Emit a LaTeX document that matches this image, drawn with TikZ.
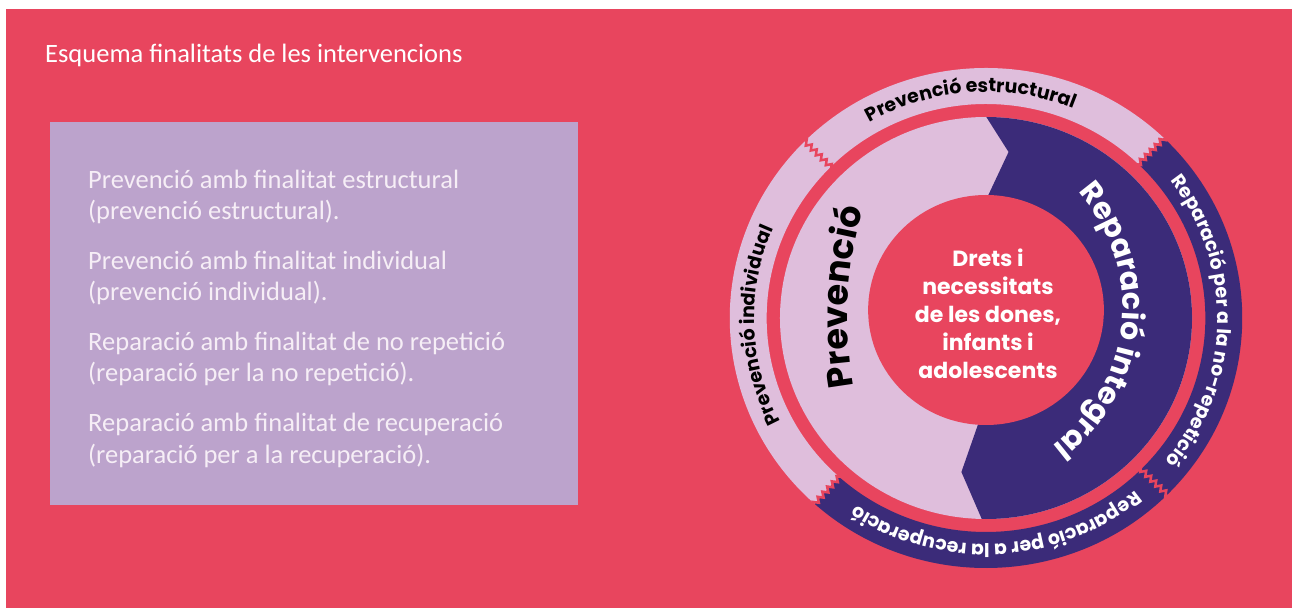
\documentclass[tikz,border=0pt]{standalone}
\usepackage{fontspec}
\setmainfont{Carlito}
\newfontfamily\pop{Poppins}
\usetikzlibrary{decorations.text,decorations.pathmorphing}
\definecolor{bgred}{HTML}{E8455E}
\definecolor{boxlilac}{HTML}{BCA3CC}
\definecolor{bandpink}{HTML}{DFBEDC}
\definecolor{deepviolet}{HTML}{3B2B79}
\definecolor{boxtext}{HTML}{F6EEF6}
\newcommand\bandfont{\pop\bfseries\fontsize{19}{19}\selectfont}
\newcommand\prevfont{\pop\bfseries\fontsize{35}{35}\selectfont}
\newcommand\repfont{\pop\bfseries\fontsize{30}{30}\selectfont}
\begin{document}
\begin{tikzpicture}[x=1pt,y=1pt,
  boxline/.style={anchor=base west, inner sep=0pt, text=boxtext, font=\fontsize{26.5}{31}\selectfont},
  cutline/.style={bgred, line width=2.5pt, decorate, decoration={zigzag, segment length=7pt, amplitude=2.5pt}},
  arctext/.style={decorate, decoration={text along path, text align=center, text={#1}}}]
\useasboundingbox (0,0) rectangle (1292,608);
\fill[white] (0,0) rectangle (1292,608);
\fill[bgred] (6,0) rectangle (1292,599);
\fill[boxlilac] (50,103) rectangle (578,486);
\node[anchor=base west, inner sep=0pt, text=white, font=\fontsize{26.5}{31}\selectfont] (title) at (45,545) {Esquema finalitats de les intervencions};
\node[boxline] (l1) at (88,419) {Prevenció amb finalitat estructural};
\node[boxline] (l2) at (88,388) {(prevenció estructural).};
\node[boxline] (l3) at (88,338) {Prevenció amb finalitat individual};
\node[boxline] (l4) at (88,307) {(prevenció individual).};
\node[boxline] (l5) at (88,257) {Reparació amb finalitat de no repetició};
\node[boxline] (l6) at (88,226) {(reparació per la no repetició).};
\node[boxline] (l7) at (88,176) {Reparació amb finalitat de recuperació};
\node[boxline] (l8) at (88,145) {(reparació per a la recuperació).};
% ring diagram, centred on C, slightly wider than tall
\coordinate (C) at (986,290);
\begin{scope}[shift={(986,290)}, xscale=1.025]
 \fill[bandpink] (46:250pt) arc[start angle=46,end angle=228,radius=250pt] -- (228:214pt) arc[start angle=228,end angle=46,radius=214pt] -- cycle;
 \fill[deepviolet] (228:250pt) arc[start angle=228,end angle=406,radius=250pt] -- (406:214pt) arc[start angle=406,end angle=228,radius=214pt] -- cycle;
 \fill[bandpink] (0,0) circle[radius=201pt];
 \begin{scope}
  \clip (0,0) circle[radius=201pt];
  \fill[deepviolet] (-9,216)--(22,166)--(0,118)--(-8,-107)--(-24,-154)--(6,-225)--(264,-225)--(264,216)--cycle;
 \end{scope}
 \fill[bgred] (0,8) circle[radius=115pt];
 \foreach \a in {46,135,228,315} \draw[cutline] (\a:210pt) -- (\a:254pt);
 \path[arctext={|\bandfont|Prevenció estructural}] (150:226pt) arc[start angle=150,end angle=38,radius=226pt];
 \path[arctext={|\bandfont|Prevenció individual}] (240:226pt) arc[start angle=240,end angle=124,radius=226pt];
 \path[arctext={|\bandfont\color{white}|Reparació per a la no-repetició}] (50:226pt) arc[start angle=50,end angle=-52,radius=226pt];
 \path[arctext={|\bandfont\color{white}|Reparació per a la recuperació}] (-30:226pt) arc[start angle=-30,end angle=-144,radius=226pt];
 \begin{scope}[shift={(265,0)}]
  \path[arctext={|\prevfont|Prevenció}] (205:400pt) arc[start angle=205,end angle=149,radius=400pt];
 \end{scope}
 \begin{scope}[shift={(-43,11)}]
  \path[arctext={|\repfont\color{white}|Reparació integral}] (72:176pt) arc[start angle=72,end angle=-83,radius=176pt];
 \end{scope}
\end{scope}
\node[text=white, font=\pop\bfseries\fontsize{22}{28}\selectfont, align=center] (core) at (988,294) {Drets i\\necessitats\\de les dones,\\infants i\\adolescents};
\end{tikzpicture}
\end{document}
